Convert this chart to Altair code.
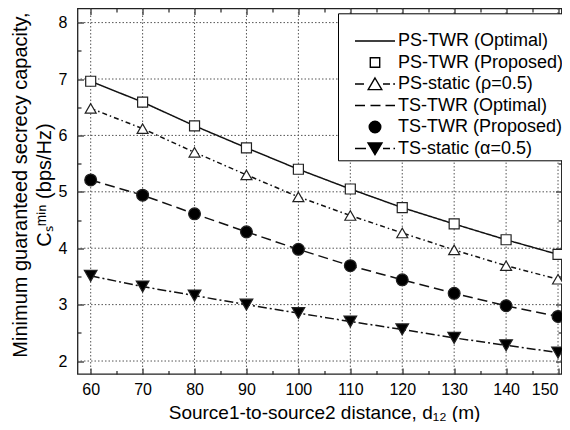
import altair as alt
import pandas as pd

# ---------------- data ----------------
distance = [60, 70, 80, 90, 100, 110, 120, 130, 140, 150]
ps_twr_optimal = [6.96, 6.59, 6.17, 5.78, 5.40, 5.05, 4.72, 4.43, 4.15, 3.89]
ps_twr_proposed = [6.96, 6.59, 6.17, 5.78, 5.40, 5.05, 4.72, 4.43, 4.15, 3.89]
ps_static = [6.48, 6.12, 5.70, 5.30, 4.91, 4.58, 4.27, 3.97, 3.69, 3.45]
ts_twr_optimal = [5.21, 4.94, 4.61, 4.29, 3.98, 3.69, 3.44, 3.20, 2.98, 2.79]
ts_twr_proposed = [5.21, 4.94, 4.61, 4.29, 3.98, 3.69, 3.44, 3.20, 2.98, 2.79]
ts_static = [3.51, 3.32, 3.16, 3.00, 2.85, 2.70, 2.56, 2.41, 2.28, 2.15]

series_names = [
    "PS-TWR (Optimal)",
    "PS-TWR (Proposed)",
    "PS-static (ρ=0.5)",
    "TS-TWR (Optimal)",
    "TS-TWR (Proposed)",
    "TS-static (α=0.5)",
]
line_series = [series_names[0], series_names[2], series_names[3], series_names[5]]
point_series = [series_names[1], series_names[2], series_names[4], series_names[5]]

x_major = [60, 70, 80, 90, 100, 110, 120, 130, 140, 150]
x_minor = [65, 75, 85, 95, 105, 115, 125, 135, 145]
y_major = [2, 3, 4, 5, 6, 7, 8]
y_minor = [2.5, 3.5, 4.5, 5.5, 6.5, 7.5]

x_title = "Source1-to-source2 distance, d₁₂ (m)"
y_title = ["Minimum guaranteed secrecy capacity,", "Cₛᵐⁱⁿ (bps/Hz)"]

# ---------------- styling ----------------
FONT = "Liberation Sans"
x_domain = [57.46, 150.67]
y_domain = [1.77, 8.25]

line_dashes = [[1, 0], [5, 3, 1.5, 3], [10, 5], [9, 3, 2, 3]]
point_shapes = ["square", "triangle-up", "circle", "triangle-down"]
point_fills = ["white", "white", "black", "black"]
point_sizes = [100, 160, 110, 170]

EXT = "M-3,0M2,0"  # common horizontal extent for every legend symbol
legend_paths = [
    EXT + "M-2,0L2,0",
    EXT + "M-0.47,-0.47L0.47,-0.47L0.47,0.47L-0.47,0.47Z",
    EXT + "M-2,0L-1.1,0M0.8,0L1.5,0M1.82,0L2,0M0,-0.6L0.68,0.56L-0.68,0.56Z",
    EXT + "M-2,0L-1,0M-0.45,0L0.55,0M1.05,0L2,0",
    EXT + "M0.58,0C0.58,0.32,0.32,0.58,0,0.58C-0.32,0.58,-0.58,0.32,-0.58,0"
    "C-0.58,-0.32,-0.32,-0.58,0,-0.58C0.32,-0.58,0.58,-0.32,0.58,0Z",
    EXT + "M-2,0L-0.9,0M0.8,0L1.5,0M1.85,0L2,0M-0.7,-0.56L0.7,-0.56L0,0.62Z",
]
legend_fills = ["white", "white", "white", "white", "black", "black"]
legend_strokes = ["black", "black", "black", "black", "black", "black"]

# ---------------- tables ----------------
rows = []
for name, vals in zip(series_names, [ps_twr_optimal, ps_twr_proposed, ps_static,
                                     ts_twr_optimal, ts_twr_proposed, ts_static]):
    for d, v in zip(distance, vals):
        rows.append({"series": name, "d": d, "c": v})
df = pd.DataFrame(rows)
gx = pd.DataFrame({"v": x_major})
gy = pd.DataFrame({"v": y_major})
leg_df = pd.DataFrame({"series": series_names})

xs = alt.Scale(domain=x_domain, nice=False, zero=False)
ys = alt.Scale(domain=y_domain, nice=False, zero=False)


def tick_axis(orient, values, size):
    return alt.Axis(orient=orient, values=values, tickSize=size, offset=-size,
                    domain=False, grid=False, labels=False, title=None)


ax_bottom = alt.Axis(orient="bottom", values=x_major, tickSize=6, offset=-6,
                     domain=False, grid=False, labelFontSize=16, labelPadding=7,
                     labelFlush=False, format="d",
                     labelAlign={"condition": {"test": "datum.value == 150", "value": "right"},
                                 "value": "center"},
                     title=x_title, titleFontSize=19, titleBaseline="alphabetic",
                     titleX=246.5, titleY=50)
ax_left = alt.Axis(orient="left", values=y_major, tickSize=6, offset=-6,
                   domain=False, grid=False, labelFontSize=16, labelPadding=10.5,
                   labelFlush=False, format="d", title=y_title,
                   titleFontSize=20, titleLineHeight=24, titleX=-53.3, titleY=176)

grid_style = dict(stroke="#555", strokeWidth=1, strokeDash=[1.5, 2])

grid_x = alt.Chart(gx).mark_rule(**grid_style).encode(
    x=alt.X("v:Q", scale=xs, axis=tick_axis("bottom", x_minor, 3.5)))
grid_y = alt.Chart(gy).mark_rule(**grid_style).encode(
    y=alt.Y("v:Q", scale=ys, axis=tick_axis("left", y_minor, 3.5)))

lines = alt.Chart(df).transform_filter(
    alt.FieldOneOfPredicate(field="series", oneOf=line_series)
).mark_line(strokeWidth=1.5, color="#111").encode(
    x=alt.X("d:Q", scale=xs, axis=ax_bottom),
    y=alt.Y("c:Q", scale=ys, axis=ax_left),
    strokeDash=alt.StrokeDash("series:N", scale=alt.Scale(domain=line_series, range=line_dashes),
                              legend=None),
)

points = alt.Chart(df).transform_filter(
    alt.FieldOneOfPredicate(field="series", oneOf=point_series)
).mark_point(filled=True, opacity=1, stroke="#222", strokeWidth=1.2).encode(
    x=alt.X("d:Q", scale=xs, axis=tick_axis("top", x_major, 6)),
    y=alt.Y("c:Q", scale=ys, axis=tick_axis("right", y_major, 6)),
    shape=alt.Shape("series:N", scale=alt.Scale(domain=point_series, range=point_shapes), legend=None),
    fill=alt.Fill("series:N", scale=alt.Scale(domain=point_series, range=point_fills), legend=None),
    size=alt.Size("series:N", scale=alt.Scale(domain=point_series, range=point_sizes), legend=None),
)

minor_tr = alt.Chart(df).transform_filter("false").mark_point(opacity=0).encode(
    x=alt.X("d:Q", scale=xs, axis=tick_axis("top", x_minor, 3.5)),
    y=alt.Y("c:Q", scale=ys, axis=tick_axis("right", y_minor, 3.5)),
)

leg = alt.Legend(
    title=" ", orient="none", legendX=260.5, legendY=4.8,
    labelFont=FONT, labelFontSize=18, labelColor="black", labelLimit=400,
    symbolSize=400, symbolStrokeWidth=1.4,
    symbolOffset=24, labelOffset=12, padding=2, rowPadding=1.5,
    titleFontSize=9, titlePadding=5.7,
    strokeColor="black", fillColor="white", cornerRadius=0,
)

legend_layer = alt.Chart(leg_df).transform_filter("false").mark_point(
    filled=True, opacity=1, strokeWidth=1.4
).encode(
    shape=alt.Shape("series:N", scale=alt.Scale(domain=series_names, range=legend_paths), legend=leg),
    fill=alt.Fill("series:N", scale=alt.Scale(domain=series_names, range=legend_fills), legend=leg),
    stroke=alt.Stroke("series:N", scale=alt.Scale(domain=series_names, range=legend_strokes), legend=leg),
)

chart = alt.layer(grid_x, grid_y, lines, points, minor_tr, legend_layer).resolve_axis(
    x="independent", y="independent"
).resolve_scale(
    shape="independent", fill="independent", size="independent",
    strokeDash="independent", stroke="independent"
).properties(
    width=484, height=365.5,
    autosize=alt.AutoSizeParams(type="none"),
    padding={"left": 69.5, "top": 0.5, "right": 0.5, "bottom": 48},
).configure_view(
    stroke="#222", strokeWidth=1.3
).configure_axis(
    labelFont=FONT, titleFont=FONT, titleFontWeight="normal",
    labelColor="black", titleColor="black", tickColor="#222", tickWidth=1.2,
).configure_legend(
    labelFont=FONT, titleFont=FONT
)

chart.save("out.html", embed_options={"renderer": "svg", "actions": False})
